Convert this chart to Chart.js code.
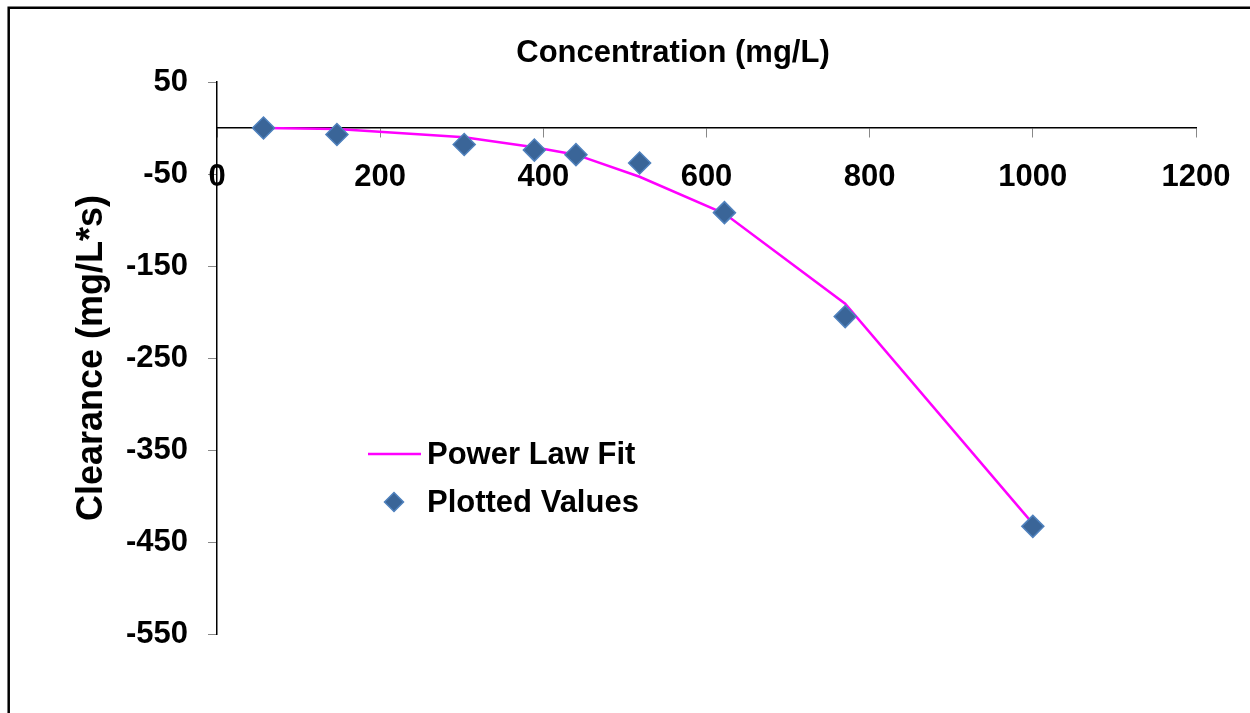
<!DOCTYPE html>
<html>
<head>
<meta charset="utf-8">
<script src="https://cdn.jsdelivr.net/npm/chart.js@4"></script>
<style>
  html, body { margin: 0; padding: 0; background: #fff; }
  #wrap { width: 1250px; height: 713px; }
</style>
</head>
<body>
<div id="wrap"><canvas id="clearanceChart" width="1250" height="713"></canvas></div>
<script>
// Data
const concentration = [57, 147, 303, 389, 440, 518, 622, 770, 1000];
const plottedValues = [0, -7, -18, -24, -29, -38, -92, -205, -433];
const powerLawFit = [0, -1, -10, -21, -29, -53, -93, -191, -430];
const xTicks = [0, 200, 400, 600, 800, 1000, 1200];
const yTicks = [50, -50, -150, -250, -350, -450, -550];

const FONT = "'Liberation Sans', Arial, sans-serif";

// Frame, title and legend drawn by hand, Excel style
const framePlugin = {
    id: "frame",
    beforeDraw(chart) {
        const ctx = chart.ctx;
        ctx.save();
        ctx.strokeStyle = "#000";
        ctx.lineWidth = 2.5;
        ctx.beginPath();
        ctx.moveTo(8.7, 713);
        ctx.lineTo(8.7, 7.7);
        ctx.lineTo(1250, 7.7);
        ctx.stroke();
        ctx.restore();
    },
    afterDraw(chart) {
        const ctx = chart.ctx;
        ctx.save();
        // chart title
        ctx.fillStyle = "#000";
        ctx.font = "bold 31px " + FONT;
        ctx.textAlign = "center";
        ctx.textBaseline = "middle";
        ctx.fillText("Concentration (mg/L)", 673, 53);
        // line sample
        ctx.strokeStyle = "#FF00FF";
        ctx.lineWidth = 2.5;
        ctx.beginPath();
        ctx.moveTo(368, 454);
        ctx.lineTo(421, 454);
        ctx.stroke();
        // diamond sample
        const cx = 394, cy = 502, r = 9.5;
        ctx.fillStyle = "#3A6598";
        ctx.strokeStyle = "#4F81BD";
        ctx.lineWidth = 1.5;
        ctx.beginPath();
        ctx.moveTo(cx - r, cy);
        ctx.lineTo(cx, cy - r);
        ctx.lineTo(cx + r, cy);
        ctx.lineTo(cx, cy + r);
        ctx.closePath();
        ctx.fill();
        ctx.stroke();
        // labels
        ctx.fillStyle = "#000";
        ctx.font = "bold 31px " + FONT;
        ctx.textAlign = "left";
        ctx.fillText("Power Law Fit", 427, 455);
        ctx.fillText("Plotted Values", 427, 503);
        ctx.restore();
    }
};

const ctx = document.getElementById("clearanceChart").getContext("2d");

new Chart(ctx, {
    type: "scatter",
    data: {
        datasets: [
            {
                label: "Plotted Values",
                data: concentration.map((c, i) => ({ x: c, y: plottedValues[i] })),
                pointStyle: "rectRot",
                pointRadius: 11,
                backgroundColor: "#3A6598",
                borderColor: "#4F81BD",
                borderWidth: 1.5,
                showLine: false
            },
            {
                label: "Power Law Fit",
                data: concentration.map((c, i) => ({ x: c, y: powerLawFit[i] })),
                showLine: true,
                borderColor: "#FF00FF",
                borderWidth: 2.5,
                pointRadius: 0,
                fill: false,
                tension: 0
            }
        ]
    },
    options: {
        responsive: false,
        animation: false,
        layout: { padding: { left: 0, top: 82, right: 54, bottom: 79 } },
        plugins: {
            legend: { display: false },
            tooltip: { enabled: false }
        },
        scales: {
            x: {
                type: "linear",
                position: { y: 0 },
                min: 0,
                max: 1200,
                afterBuildTicks: (scale) => { scale.ticks = xTicks.map(v => ({ value: v })); },
                afterFit: (scale) => { scale.paddingLeft = 0; scale.paddingRight = 0; },
                grid: { drawOnChartArea: false, tickLength: 9, tickColor: "#888", tickWidth: 1 },
                border: { display: true, color: "#000", width: 1.5 },
                ticks: {
                    color: "#000",
                    padding: 22,
                    maxRotation: 0,
                    autoSkip: false,
                    callback: (v) => String(v),
                    font: { family: FONT, size: 31, weight: "bold" }
                }
            },
            y: {
                type: "linear",
                position: "left",
                min: -550,
                max: 50,
                afterBuildTicks: (scale) => { scale.ticks = yTicks.map(v => ({ value: v })); },
                afterFit: (scale) => { scale.width = 217; },
                grid: { drawOnChartArea: false, tickLength: 9, tickColor: "#888", tickWidth: 1 },
                border: { display: true, color: "#000", width: 1.5 },
                ticks: {
                    color: "#000",
                    padding: 20,
                    autoSkip: false,
                    callback: (v) => String(v),
                    font: { family: FONT, size: 31, weight: "bold" }
                },
                title: {
                    display: true,
                    text: "Clearance (mg/L*s)",
                    color: "#000",
                    font: { family: FONT, size: 36, weight: "bold", lineHeight: 1.2 },
                    padding: { top: 70, bottom: 0 }
                }
            }
        }
    },
    plugins: [framePlugin]
});
</script>
</body>
</html>
